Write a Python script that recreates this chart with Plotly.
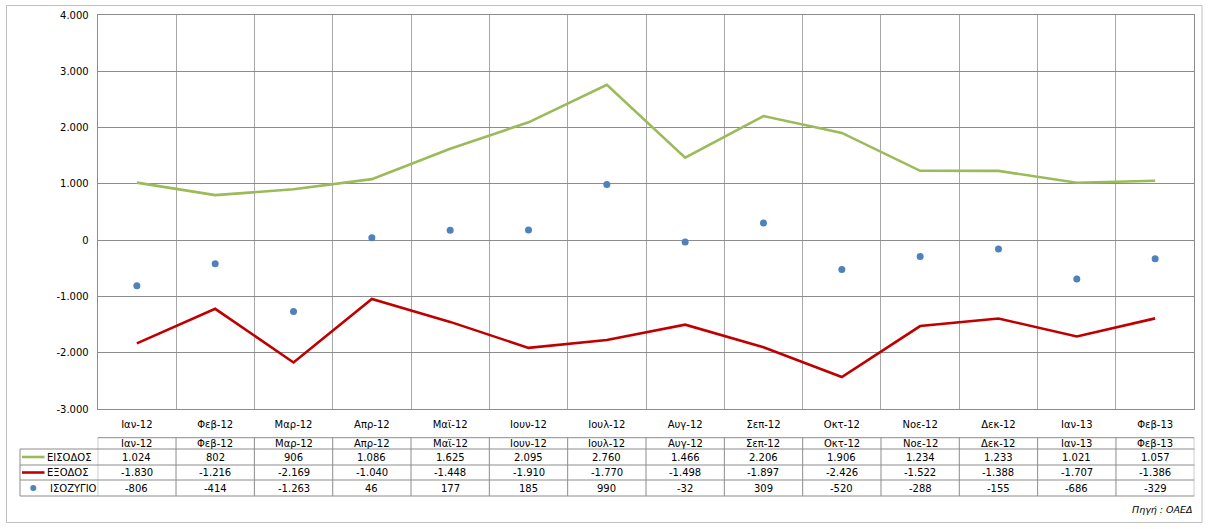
import plotly.graph_objects as go

months = ["Ιαν-12", "Φεβ-12", "Μαρ-12", "Απρ-12", "Μαϊ-12", "Ιουν-12", "Ιουλ-12",
          "Αυγ-12", "Σεπ-12", "Οκτ-12", "Νοε-12", "Δεκ-12", "Ιαν-13", "Φεβ-13"]
eisodos = [1024, 802, 906, 1086, 1625, 2095, 2760, 1466, 2206, 1906, 1234, 1233, 1021, 1057]
exodos = [-1830, -1216, -2169, -1040, -1448, -1910, -1770, -1498, -1897, -2426, -1522, -1388, -1707, -1386]
isozygio = [-806, -414, -1263, 46, 177, 185, 990, -32, 309, -520, -288, -155, -686, -329]
y_ticks = [-3000, -2000, -1000, 0, 1000, 2000, 3000, 4000]

series_names = ["ΕΙΣΟΔΟΣ", "ΕΞΟΔΟΣ", "ΙΣΟΖΥΓΙΟ"]
GREEN, RED, BLUE = "#9BBB59", "#C00000", "#4F81BD"

W, H = 1208, 529
FONT = "DejaVu Sans"


def fmt(v):
    s = f"{abs(v):,}".replace(",", ".")
    return ("-" if v < 0 else "") + s


def px(x):
    return x / W


def py(y):
    return 1 - y / H


fig = go.Figure()
fig.add_trace(go.Scatter(x=months, y=eisodos, mode="lines", name=series_names[0],
                         line=dict(color=GREEN, width=2.6)))
fig.add_trace(go.Scatter(x=months, y=exodos, mode="lines", name=series_names[1],
                         line=dict(color=RED, width=2.6)))
fig.add_trace(go.Scatter(x=months, y=isozygio, mode="markers", name=series_names[2],
                         marker=dict(color=BLUE, size=7)))

shapes = []
annotations = []
GRID = "#8C8C8C"
TBL = "#8C8C8C"

# table geometry (pixels)
t_top, t_hdr, r1, r2, r3 = 437.7, 449, 465, 480, 496
leg_left = 20
n = len(months)

shapes.append(dict(type="line", xref="x", yref="paper", x0=-0.5, x1=n - 0.5,
                   y0=py(t_top), y1=py(t_top), line=dict(color=TBL, width=1)))
for yy in (t_hdr, r1, r2, r3):
    shapes.append(dict(type="line", xref="paper", yref="paper", x0=px(leg_left), x1=px(1194.3),
                       y0=py(yy), y1=py(yy), line=dict(color=TBL, width=1)))
for i in range(n + 1):
    shapes.append(dict(type="line", xref="x", yref="paper", x0=i - 0.5, x1=i - 0.5,
                       y0=py(t_top), y1=py(r3), line=dict(color=TBL, width=1)))
shapes.append(dict(type="line", xref="paper", yref="paper", x0=px(leg_left), x1=px(leg_left),
                   y0=py(t_hdr), y1=py(r3), line=dict(color=TBL, width=1)))

shapes.append(dict(type="rect", xref="paper", yref="paper", x0=px(6.5), x1=px(1202),
                   y0=py(522.5), y1=py(5.5), line=dict(color="#BFBFBF", width=1)))

shapes.append(dict(type="line", xref="paper", yref="paper", x0=px(22), x1=px(44.5),
                   y0=py(457), y1=py(457), line=dict(color=GREEN, width=2.6)))
shapes.append(dict(type="line", xref="paper", yref="paper", x0=px(22), x1=px(44.5),
                   y0=py(472.5), y1=py(472.5), line=dict(color=RED, width=2.6)))
shapes.append(dict(type="circle", xref="paper", yref="paper", x0=px(30.3), x1=px(36.3),
                   y0=py(491), y1=py(485), fillcolor=BLUE, line=dict(color=BLUE, width=0)))

row_y = [457, 472.5, 488]
row_left = [45, 45, 47.5]
for name, yy, xl in zip(series_names, row_y, row_left):
    annotations.append(dict(text=name, xref="paper", yref="paper", x=px(xl), y=py(yy),
                            xanchor="left", yanchor="middle", showarrow=False,
                            font=dict(family=FONT, size=10, color="#000")))

for i, m in enumerate(months):
    annotations.append(dict(text=m, xref="x", yref="paper", x=m, y=py(443),
                            xanchor="center", yanchor="middle", showarrow=False,
                            font=dict(family=FONT, size=10, color="#000")))
    for vals, yy in zip((eisodos, exodos, isozygio), row_y):
        annotations.append(dict(text=fmt(vals[i]), xref="x", yref="paper", x=m, y=py(yy),
                                xanchor="center", yanchor="middle", showarrow=False,
                                font=dict(family=FONT, size=10, color="#000")))

annotations.append(dict(text="<i>Πηγή : ΟΑΕΔ</i>", xref="paper", yref="paper", x=px(1195),
                        y=py(509), xanchor="right", yanchor="middle", showarrow=False,
                        font=dict(family=FONT, size=9.5, color="#000")))

fig.update_layout(
    width=W, height=H,
    margin=dict(l=0, r=0, t=0, b=0),
    paper_bgcolor="white", plot_bgcolor="white",
    showlegend=False,
    font=dict(family=FONT, size=10, color="#000"),
    xaxis=dict(domain=[px(97.7), px(1194.3)], type="category", range=[-0.5, n - 0.5],
               tickson="boundaries", showgrid=True, gridcolor="#A8A8A8", gridwidth=1,
               showline=True, linecolor=GRID, mirror=True, ticks="", ticklabelstandoff=6,
               tickfont=dict(family=FONT, size=10, color="#000"), zeroline=False,
               fixedrange=True, automargin=False),
    yaxis=dict(domain=[py(409.3), py(15)], range=[-3000, 4000],
               tickvals=y_ticks, ticktext=[fmt(v) for v in y_ticks],
               showgrid=True, gridcolor=GRID, gridwidth=1, zeroline=False,
               showline=True, linecolor=GRID, mirror=True, ticks="", ticklabelstandoff=6,
               tickfont=dict(family=FONT, size=10, color="#000"), fixedrange=True,
               automargin=False),
    shapes=shapes,
    annotations=annotations,
)

fig.write_html("out.html", config={"displayModeBar": False},
               post_script="document.body.style.margin='0';document.body.style.overflow='hidden';")
